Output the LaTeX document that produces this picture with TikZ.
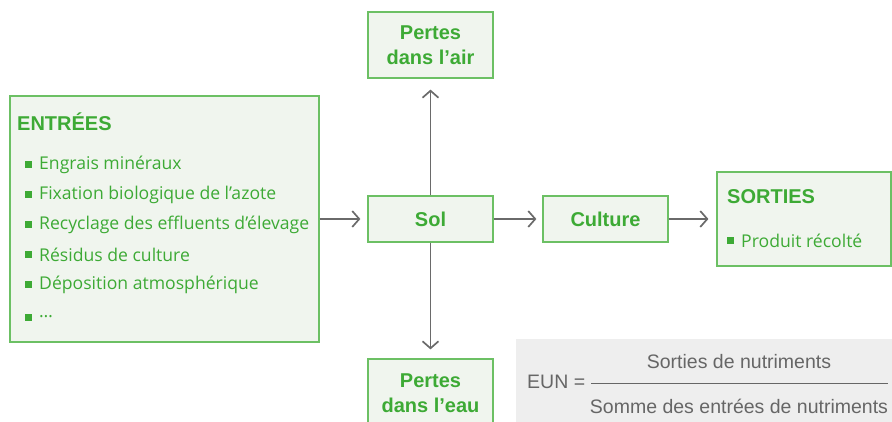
\documentclass[tikz,border=0pt]{standalone}
\usepackage{fontspec}
\setmainfont{Liberation Sans}
\newfontfamily\itemfont{Open Sans}
\usetikzlibrary{arrows.meta}
\definecolor{vert}{HTML}{3DAA35}
\definecolor{bordvert}{HTML}{6CC064}
\definecolor{fondvert}{HTML}{F0F5EE}
\definecolor{gris}{HTML}{6A6A6A}
\definecolor{fondgris}{HTML}{EEEEEE}
\definecolor{texgris}{HTML}{666666}
\begin{document}
\begin{tikzpicture}[x=1pt,y=-1pt,
	boite/.style={draw=bordvert,fill=fondvert,line width=1.2pt,inner sep=0pt},
	titre/.style={text=vert,font=\fontsize{20}{23}\selectfont\bfseries,align=center},
	puce/.style={fill=vert,minimum size=7pt,inner sep=0pt},
	liste/.style={text=vert,font=\itemfont\fontsize{17.6}{20}\selectfont,anchor=west,inner sep=0pt},
	fleche/.style={draw=gris,line width=1.7pt,-{Straight Barb[length=7pt,width=16pt,line width=1.7pt]}},
	formule/.style={text=texgris,font=\fontsize{19.5}{23}\selectfont,inner sep=0pt}]
	\useasboundingbox (0,0) rectangle (892,422);
	\clip (0,0) rectangle (892,422);
	% boites
	\node[boite,minimum width=309pt,minimum height=246pt] (entrees) at (164.5,219) {};
	\node[boite,minimum width=125pt,minimum height=46pt] (sol) at (430.5,219) {};
	\node[boite,minimum width=125pt,minimum height=66pt] (air) at (430.5,45) {};
	\node[boite,minimum width=125pt,minimum height=66pt] (eau) at (430.5,392) {};
	\node[boite,minimum width=125pt,minimum height=46pt] (culture) at (605.5,219) {};
	\node[boite,minimum width=174pt,minimum height=94pt] (sorties) at (804,219) {};
	\fill[fondgris] (516,339) rectangle (900,430);
	% textes des boites
	\node[titre] (soltxt) at (sol.center) {Sol};
	\node[titre] (culturetxt) at (culture.center) {Culture};
	\node[titre] (airtxt) at (430.5,45) {Pertes\\[2pt]dans l’air};
	\node[titre] (eautxt) at (430.5,393) {Pertes\\[2pt]dans l’eau};
	\node[titre,anchor=west,inner sep=0pt] (entreestitre) at (17,122) {ENTRÉES};
	\node[titre,anchor=west,inner sep=0pt] (sortiestitre) at (727,197) {SORTIES};
	% listes
	\foreach \y/\t [count=\i] in {165/Engrais minéraux,195/Fixation biologique de l’azote,225/Recyclage des effluents d’élevage,255/Résidus de culture,285/Déposition atmosphérique,317/{\ldots}}{
		\node[puce] (p\i) at (28.5,\y) {};
		\node[liste] (l\i) at (39,\y) {\t};
	}
	\node[puce] (ps) at (730.5,241) {};
	\node[liste] (ls) at (741,241) {Produit récolté};
	% fleches
	\draw[fleche,shorten >=7pt] (entrees.east) -- (sol.west);
	\draw[fleche,shorten >=6pt] (sol.east) -- (culture.west);
	\draw[fleche,shorten >=8pt] (culture.east) -- (sorties.west);
	\draw[fleche,shorten >=11pt] (sol.north) -- (air.south);
	\draw[fleche,shorten >=9pt] (sol.south) -- (eau.north);
	% formule
	\node[formule,anchor=west] (eun) at (527,382) {EUN =};
	\node[formule] (num) at (739,362) {Sorties de nutriments};
	\node[formule] (den) at (739,406) {Somme des entrées de nutriments};
	\coordinate (bg) at (591,383);
	\coordinate (bd) at (888,383);
	\draw[texgris,line width=1pt] (bg) -- (bd);
\end{tikzpicture}
\end{document}
